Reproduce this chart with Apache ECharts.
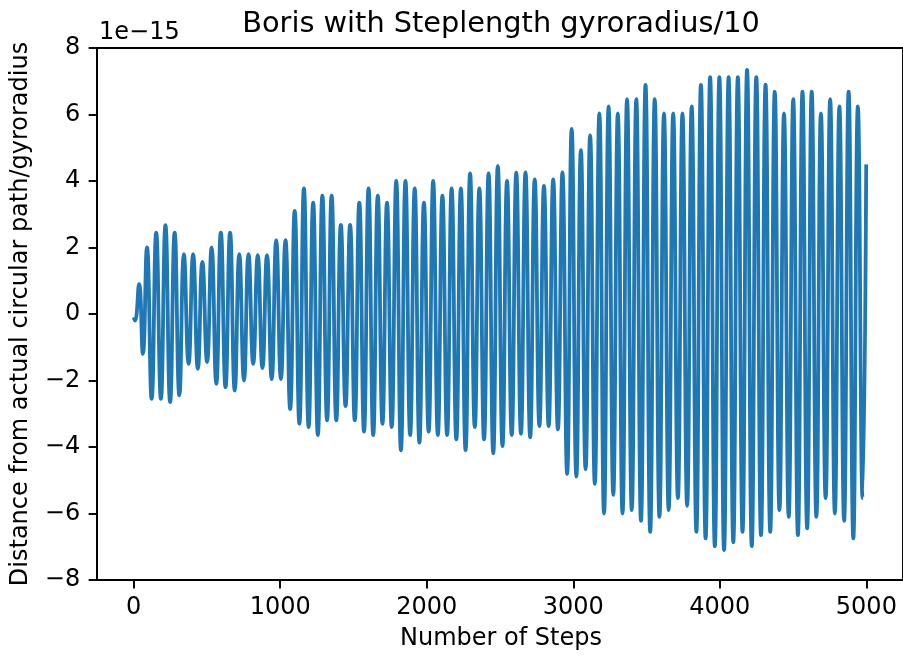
<!DOCTYPE html>
<html>
<head>
<meta charset="utf-8">
<title>Boris with Steplength gyroradius/10</title>
<script src="https://cdn.jsdelivr.net/npm/echarts@6/dist/echarts.min.js"></script>
<style>
html, body { margin: 0; padding: 0; background: #fff; }
#chart { width: 903px; height: 657px; }
</style>
</head>
<body>
<div id="chart"></div>
<script>
// 极值点所在的步数
var steps = [0, 10, 37, 63,
	91, 123, 154, 186, 217, 249, 280, 312, 343, 375,
	406, 438, 469, 501, 532, 564, 595, 627, 658, 690,
	721, 753, 784, 816, 847, 879, 910, 942, 973, 1005,
	1036, 1068, 1099, 1131, 1162, 1194, 1225, 1257, 1288, 1320,
	1351, 1383, 1414, 1446, 1477, 1509, 1540, 1572, 1603, 1635,
	1666, 1698, 1729, 1761, 1792, 1824, 1855, 1887, 1918, 1950,
	1981, 2013, 2044, 2076, 2107, 2139, 2170, 2202, 2233, 2265,
	2296, 2328, 2359, 2391, 2422, 2454, 2485, 2517, 2548, 2580,
	2611, 2643, 2674, 2706, 2737, 2769, 2800, 2832, 2863, 2895,
	2926, 2958, 2989, 3021, 3052, 3084, 3115, 3147, 3178, 3210,
	3241, 3273, 3304, 3336, 3367, 3399, 3430, 3462, 3493, 3525,
	3556, 3588, 3619, 3651, 3682, 3714, 3745, 3777, 3808, 3840,
	3871, 3903, 3934, 3966, 3997, 4029, 4060, 4092, 4123, 4155,
	4186, 4218, 4249, 4281, 4312, 4344, 4375, 4407, 4438, 4470,
	4501, 4533, 4564, 4596, 4627, 4659, 4690, 4722, 4753, 4785,
	4816, 4848, 4879, 4911, 4942, 4974,
	4999];

// 偏差值（单位 1e-15）
var distance = [-0.1, -0.2, 0.9, -1.2,
	2.0, -2.55, 2.45, -2.55, 2.67, -2.65, 2.45, -2.45, 1.8, -1.5,
	1.8, -1.65, 1.57, -1.45, 2.0, -2.1, 2.45, -2.2, 2.45, -2.3,
	1.8, -2.0, 1.8, -1.5, 1.77, -1.63, 1.77, -1.96, 2.22, -1.96,
	2.22, -2.86, 3.1, -3.3, 3.78, -3.4, 3.35, -3.64, 3.56, -3.2,
	3.56, -3.2, 2.68, -2.77, 2.68, -3.2, 3.35, -3.54, 3.78, -3.64,
	3.56, -3.3, 3.35, -3.4, 4.0, -4.1, 4.0, -3.64, 3.78, -3.87,
	3.35, -3.54, 4.0, -3.64, 3.56, -3.64, 3.78, -3.77, 3.78, -4.1,
	4.23, -3.4, 3.78, -3.77, 4.23, -4.19, 4.45, -3.97, 4.0, -3.64,
	4.25, -3.6, 4.26, -3.71, 4.05, -3.37, 3.85, -3.37, 4.05, -3.47,
	4.26, -4.81, 5.57, -4.89, 4.93, -4.67, 5.37, -5.11, 6.03, -6.0,
	6.24, -5.44, 6.03, -6.0, 6.46, -5.9, 6.46, -6.22, 6.89, -6.55,
	6.46, -6.1, 6.03, -5.9, 6.03, -5.54, 6.03, -5.77, 6.24, -6.55,
	6.89, -6.75, 7.12, -6.98, 7.12, -7.1, 7.12, -6.86, 7.12, -6.55,
	7.34, -6.98, 7.12, -6.65, 6.9, -6.55, 6.69, -5.9, 6.03, -6.1,
	6.46, -6.65, 6.69, -6.45, 6.69, -6.1, 6.03, -5.54, 6.46, -6.0,
	6.24, -6.22, 6.69, -6.75, 6.24, -5.54,
	4.5];

var xTicks = [0, 1000, 2000, 3000, 4000, 5000];
var yTicks = [-8, -6, -4, -2, 0, 2, 4, 6, 8];

var FONT = 'DejaVu Sans';

var initChart = function(){
	var myChart = echarts.init(document.getElementById('chart'), null, {renderer: 'canvas'});

	var points = [];
	for (var i = 0; i < steps.length; i++) {
		points.push([steps[i], distance[i]]);
	}

	var minus = function(v){
		return v < 0 ? '\u2212' + (-v) : String(v);
	};

	var option = {
		backgroundColor: '#fff',
		animation: false,
		grid: {
			left: 97,
			top: 48,
			width: 807,
			height: 532,
			show: true,
			borderColor: '#000',
			borderWidth: 1.9,
			backgroundColor: 'transparent'
		},
		xAxis: {
			type: 'value',
			min: -250,
			max: 5250,
			splitLine: {show: false},
			axisLine: {show: true, onZero: false, lineStyle: {color: '#000', width: 1.9}},
			axisTick: {show: true, inside: false, length: 8.4, customValues: xTicks,
				lineStyle: {color: '#000', width: 1.9}},
			axisLabel: {customValues: xTicks, margin: 16, color: '#000',
				fontFamily: FONT, fontSize: 24, formatter: minus}
		},
		yAxis: {
			type: 'value',
			min: yTicks[0],
			max: yTicks[yTicks.length - 1],
			interval: 2,
			splitLine: {show: false},
			axisLine: {show: true, onZero: false, lineStyle: {color: '#000', width: 1.9}},
			axisTick: {show: true, inside: false, length: 8.4,
				lineStyle: {color: '#000', width: 1.9}},
			axisLabel: {margin: 16.8, color: '#000', fontFamily: FONT, fontSize: 24,
				formatter: minus}
		},
		graphic: [
			{type: 'text', x: 501, y: 25, style: {text: 'Boris with Steplength gyroradius/10',
				fontFamily: FONT, fontSize: 28.8, fill: '#000', align: 'center', verticalAlign: 'middle'}},
			{type: 'text', x: 99, y: 33, style: {text: '1e\u221215',
				fontFamily: FONT, fontSize: 24, fill: '#000', align: 'left', verticalAlign: 'middle'}},
			{type: 'text', x: 501, y: 639, style: {text: 'Number of Steps',
				fontFamily: FONT, fontSize: 24, fill: '#000', align: 'center', verticalAlign: 'middle'}},
			{type: 'text', x: 21, y: 314, rotation: Math.PI / 2, style: {text: 'Distance from actual circular path/gyroradius',
				fontFamily: FONT, fontSize: 24, fill: '#000', align: 'center', verticalAlign: 'middle'}}
		],
		series: [
			{
				type: 'line',
				data: points,
				smooth: true,
				showSymbol: false,
				symbol: 'none',
				clip: true,
				lineStyle: {color: '#1f77b4', width: 3.8, join: 'round'}
			}
		]
	};

	myChart.setOption(option);
};

initChart();
</script>
</body>
</html>
